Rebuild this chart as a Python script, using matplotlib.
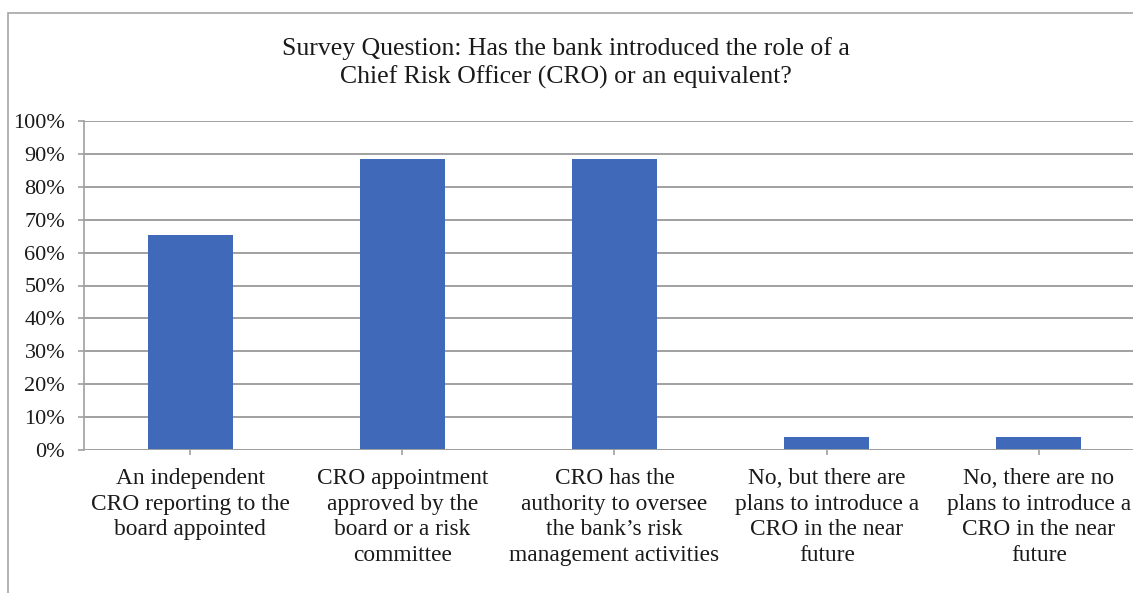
import matplotlib.pyplot as plt
import matplotlib.patches as mpatches
import numpy as np

# survey answers (share of responding banks)
categorias = [
    "An independent\nCRO reporting to the\nboard appointed",
    "CRO appointment\napproved by the\nboard or a risk\ncommittee",
    "CRO has the\nauthority to oversee\nthe bank\u2019s risk\nmanagement activities",
    "No, but there are\nplans to introduce a\nCRO in the near\nfuture",
    "No, there are no\nplans to introduce a\nCRO in the near\nfuture",
]
valores = [17 / 26, 23 / 26, 23 / 26, 1 / 26, 1 / 26]
ticks_y = [0, 0.1, 0.2, 0.3, 0.4, 0.5, 0.6, 0.7, 0.8, 0.9, 1.0]
etiquetas_y = ["0%", "10%", "20%", "30%", "40%", "50%", "60%", "70%", "80%", "90%", "100%"]
titulo = "Survey Question: Has the bank introduced the role of a\nChief Risk Officer (CRO) or an equivalent?"

W, H = 1133, 593
plt.rcParams['font.family'] = ['Liberation Serif', 'DejaVu Serif']

fig = plt.figure(figsize=(W / 100, H / 100), dpi=100)
fig.patch.set_facecolor('white')

# outer chart frame (runs off the right and bottom edges)
marco = mpatches.Rectangle((8 / W, -0.1), 1.2, 1.1 - 13 / H, transform=fig.transFigure,
                           fill=False, edgecolor='#A6A6A6', linewidth=1.2)
fig.add_artist(marco)

izq, der = 84, 1145
arriba, abajo = 121, 450
ax = fig.add_axes([izq / W, 1 - abajo / H, (der - izq) / W, (abajo - arriba) / H])

x = np.arange(len(categorias))
ax.bar(x, valores, width=0.40, color='#4169BA', zorder=3)

ax.set_xlim(-0.5, len(categorias) - 0.5)
ax.set_ylim(0, 1.0)
ax.set_yticks(ticks_y)
ax.set_yticklabels(etiquetas_y, fontsize=16, color='#1a1a1a')
ax.set_xticks(x)
ax.set_xticklabels(categorias, fontsize=16.8, color='#1a1a1a', linespacing=1.3)

ax.yaxis.grid(True, color='#A0A0A0', linewidth=1.4, zorder=0)
ax.set_axisbelow(True)
for lado in ['top', 'right', 'bottom']:
    ax.spines[lado].set_visible(False)
ax.spines['left'].set_color('#A0A0A0')
ax.spines['left'].set_linewidth(1.2)
ax.axhline(0, color='#A0A0A0', linewidth=1.4, zorder=4)

ax.tick_params(axis='y', length=4.5, width=1.2, color='#A0A0A0', pad=9)
ax.tick_params(axis='x', direction='inout', length=7.5, width=1.2, color='#A0A0A0', pad=9)

fig.text(566 / W, 1 - 63 / H, titulo, ha='center', va='center', fontsize=18.5,
         color='#1a1a1a', linespacing=1.35)

fig.savefig('out.png', dpi=100)
